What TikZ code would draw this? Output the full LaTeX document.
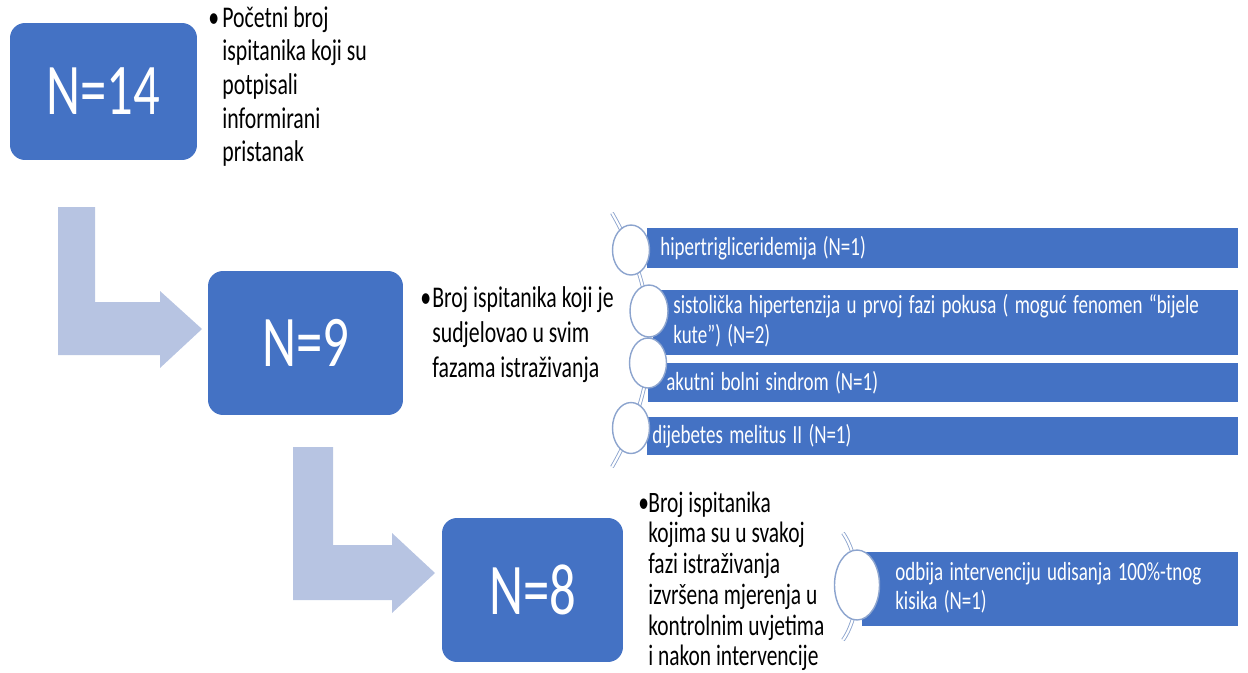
\documentclass[tikz,border=0pt]{standalone}
\usepackage{fontspec}
\setmainfont{Carlito}
\usepackage{graphicx}
\usetikzlibrary{shapes.geometric}
\setlength{\parindent}{0pt}

\definecolor{boxblue}{RGB}{68,114,196}
\definecolor{arrowblue}{RGB}{183,196,226}
\definecolor{ringblue}{RGB}{140,164,206}

% the reference is stretched upwards
\newcommand{\tall}[1]{\scalebox{1}[1.38]{#1}}

\begin{document}
\begin{tikzpicture}[x=0.02cm, y=-0.02cm,
  nbox/.style={fill=boxblue, text=white, rounded corners=0.3cm, inner sep=0pt, font=\fontsize{30}{36}\selectfont},
  note/.style={anchor=base west, inner sep=0pt, font=\fontsize{12.4}{13.9}\selectfont},
  bar/.style={fill=boxblue, text=white, anchor=west, align=left, inner ysep=0pt, font=\fontsize{10.8}{12.3}\selectfont},
  ring/.style={ellipse, fill=white, draw=ringblue, line width=0.8pt, inner sep=0pt},
  link/.style={draw=ringblue, double=white, double distance=1.2pt, line width=0.5pt},
  bent/.style={fill=arrowblue}]

  \useasboundingbox (0,0) rectangle (1248,673);

  % bent arrows
  \fill[bent] (58,207) -- (95,207) -- (95,302) -- (160,302) -- (160,291) -- (202,329)
    -- (160,368) -- (160,355) -- (58,355) -- cycle;
  \fill[bent] (293,447) -- (333,447) -- (333,545) -- (392,545) -- (392,533) -- (435,573)
    -- (392,613) -- (392,600) -- (293,600) -- cycle;

  % counts
  \node[nbox, minimum width=3.74cm, minimum height=2.74cm] (n14) at (103.5,91.5) {\tall{N=14}};
  \node[nbox, minimum width=3.9cm, minimum height=2.88cm] (n9) at (305.5,343) {\tall{N=9}};
  \node[nbox, minimum width=3.62cm, minimum height=2.88cm] (n8) at (532.5,590) {\tall{N=8}};

  \node[note] (t14) at (208,27) {\tall{\begin{tabular}[t]{@{}p{0.28cm}@{}l@{}}
    \textbullet & Početni broj\\ & ispitanika koji su\\ & potpisali\\ & informirani\\ & pristanak\end{tabular}}};
  \node[note, font=\fontsize{12.4}{14.6}\selectfont] (t9) at (420,307) {\tall{\begin{tabular}[t]{@{}p{0.24cm}@{}l@{}}
    \textbullet & Broj ispitanika koji je\\ & sudjelovao u svim\\ & fazama istraživanja\end{tabular}}};
  \node[note, font=\fontsize{12.2}{12.7}\selectfont] (t8) at (638,512) {\tall{\begin{tabular}[t]{@{}p{0.2cm}@{}l@{}}
    \textbullet & Broj ispitanika\\ & kojima su u svakoj\\ & fazi istraživanja\\ & izvršena mjerenja u\\
    & kontrolnim uvjetima\\ & i nakon intervencije\end{tabular}}};

  % reasons
  \node[bar, minimum height=0.8cm, text width=11.3cm, inner xsep=0.26cm] (b1) at (647,248)
    {\tall{hipertrigliceridemija (N=1)}};
  \node[bar, minimum height=1.3cm, text width=10.9cm, inner xsep=0.4cm] (b2) at (653,322.5)
    {\tall{\begin{tabular}{@{}l@{}}sistolička hipertenzija u prvoj fazi pokusa ( moguć fenomen “bijele\\ kute”) (N=2)\end{tabular}}};
  \node[bar, minimum height=0.78cm, text width=11.08cm, inner xsep=0.36cm] (b3) at (648,382.5)
    {\tall{akutni bolni sindrom (N=1)}};
  \node[bar, minimum height=0.76cm, text width=11.62cm, inner xsep=0.1cm] (b4) at (647,436)
    {\tall{dijebetes melitus II (N=1)}};
  \node[bar, minimum height=1.48cm, text width=6.2cm, inner xsep=0.66cm] (b5) at (862,589)
    {\tall{\begin{tabular}{@{}l@{}}odbija intervenciju udisanja 100\%-tnog\\ kisika (N=1)\end{tabular}}};

  \coordinate (top1) at (612,213);
  \coordinate (bot1) at (612,467);
  \coordinate (top2) at (843,533);
  \coordinate (bot2) at (843,640);
  \draw[link] (top1) .. controls (662,300) and (662,380) .. (bot1);
  \draw[link] (top2) .. controls (862,560) and (862,613) .. (bot2);

  \node[ring, minimum width=0.74cm, minimum height=1cm] (r1) at (631,250) {};
  \node[ring, minimum width=0.76cm, minimum height=1.04cm] (r2) at (649,311) {};
  \node[ring, minimum width=0.74cm, minimum height=1cm] (r3) at (648,363) {};
  \node[ring, minimum width=0.74cm, minimum height=1.02cm] (r4) at (631,428) {};
  \node[ring, minimum width=0.9cm, minimum height=1.4cm] (r5) at (857,585) {};

\end{tikzpicture}
\end{document}
